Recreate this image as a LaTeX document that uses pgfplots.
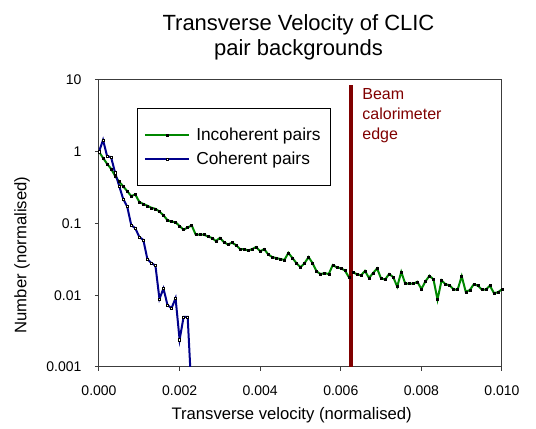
\documentclass[border=0pt]{standalone}
\usepackage{pgfplots}
\pgfplotsset{compat=1.18}
\usepackage{pgfplotstable}
\usepackage{fontspec}
\setmainfont{Liberation Sans}
\definecolor{incgreen}{RGB}{0,135,0}
\definecolor{cohblue}{RGB}{0,0,140}
\definecolor{beamred}{RGB}{128,0,0}
\definecolor{framegray}{RGB}{60,60,60}

\pgfplotstableread{
x v
0.0000 1.0
0.0001 0.82
0.0002 0.68
0.0003 0.578
0.0004 0.46
0.0005 0.383
0.0006 0.33
0.0007 0.282
0.0008 0.241
0.0009 0.254
0.0010 0.200
0.0011 0.187
0.0012 0.177
0.0013 0.166
0.0014 0.160
0.0015 0.147
0.0016 0.130
0.0017 0.111
0.0018 0.106
0.0019 0.104
0.0020 0.092
0.0021 0.082
0.0022 0.088
0.0023 0.094
0.0024 0.070
0.0025 0.070
0.0026 0.070
0.0027 0.066
0.0028 0.063
0.0029 0.057
0.0030 0.063
0.0031 0.055
0.0032 0.051
0.0033 0.054
0.0034 0.050
0.0035 0.044
0.0036 0.044
0.0037 0.042
0.0038 0.044
0.0039 0.047
0.0040 0.041
0.0041 0.044
0.0042 0.037
0.0043 0.034
0.0044 0.033
0.0045 0.032
0.0046 0.031
0.0047 0.039
0.0048 0.033
0.0049 0.028
0.0050 0.0245
0.0051 0.028
0.0052 0.034
0.0053 0.028
0.0054 0.0215
0.0055 0.0197
0.0056 0.0204
0.0057 0.0197
0.0058 0.0263
0.0059 0.0245
0.0060 0.0238
0.0061 0.0222
0.0062 0.0179
0.0063 0.0208
0.0064 0.0197
0.0065 0.0189
0.0066 0.0218
0.0067 0.0174
0.0068 0.0204
0.0069 0.0236
0.0070 0.0171
0.0071 0.0166
0.0072 0.0198
0.0073 0.0179
0.0074 0.0132
0.0075 0.0211
0.0076 0.0145
0.0077 0.0145
0.0078 0.0145
0.0079 0.0154
0.0080 0.0122
0.0081 0.0156
0.0082 0.0187
0.0083 0.0166
0.0084 0.0087
0.0085 0.0161
0.0086 0.0142
0.0087 0.0138
0.0088 0.0120
0.0089 0.0120
0.0090 0.0184
0.0091 0.0112
0.0092 0.0118
0.0093 0.0142
0.0094 0.0136
0.0095 0.0120
0.0096 0.0120
0.0097 0.0136
0.0098 0.0107
0.0099 0.0110
0.0100 0.0121
}\incoh

\pgfplotstableread{
x v
0.0000 1.0
0.0001 1.46
0.0002 0.87
0.0003 0.84
0.0004 0.51
0.0005 0.335
0.0006 0.22
0.0007 0.172
0.0008 0.095
0.0009 0.086
0.0010 0.065
0.0011 0.059
0.0012 0.032
0.0013 0.028
0.0014 0.026
0.0015 0.0089
0.0016 0.0124
0.0017 0.0073
0.0018 0.0066
0.0019 0.0091
0.0020 0.0024
0.0021 0.0050
0.0022 0.0050
0.0023 0.0004
}\coh

\begin{document}
\begin{tikzpicture}
\begin{axis}[
  scale only axis,
  width=302.25pt, height=215.25pt,
  xmin=0, xmax=0.01, ymin=0.001, ymax=10,
  ymode=log,
  xtick={0,0.002,0.004,0.006,0.008,0.01},
  xticklabels={0.000,0.002,0.004,0.006,0.008,0.010},
  ytick={0.001,0.01,0.1,1,10},
  yticklabels={0.001,0.01,0.1,1,10},
  yminorticks=false,
  scaled x ticks=false,
  tick align=outside, xtick pos=bottom, ytick pos=left,
  major tick length=3pt,
  axis line style={framegray, line width=0.75pt},
  tick style={framegray, line width=0.75pt},
  ticklabel style={font=\fontsize{10.5}{12}\selectfont},
  xticklabel style={anchor=north, inner sep=0pt, yshift=-10.5pt},
  yticklabel style={anchor=east, inner sep=0pt, xshift=-10pt},
  /pgf/number format/assume math mode=true,
  title={Transverse Velocity of CLIC\\pair backgrounds},
  title style={at={(axis description cs:0.495,1.12)}, anchor=center, align=center, font=\fontsize{16.5}{18.75}\selectfont},
  xlabel={Transverse velocity (normalised)},
  xlabel style={at={(axis description cs:0.478,-0.167)}, anchor=center, font=\fontsize{12.5}{15}\selectfont},
  ylabel={Number (normalised)},
  ylabel style={at={(axis description cs:-0.191,0.39)}, anchor=center, font=\fontsize{12.5}{15}\selectfont},
  legend style={at={(axis description cs:0.094,0.902)}, anchor=north west, draw=black, line width=0.6pt,
    font=\fontsize{13}{15}\selectfont, inner xsep=5pt, inner ysep=12.5pt, row sep=3pt, column sep=2.75pt},
  legend cell align=left,
  legend image code/.code={\draw[mark repeat=2,mark phase=2,#1] plot coordinates {(0pt,0pt) (16.5pt,0pt) (33pt,0pt)};},
]
\addplot[incgreen, line width=1.5pt, mark=square*, mark size=0.75pt, mark options={solid, fill=black, draw=black, line width=0.3pt}] table[x=x,y=v]{\incoh};
\addlegendentry{Incoherent pairs}
\addplot[cohblue, line width=1.5pt, mark=square*, mark size=0.8pt, mark options={solid, fill=white, draw=black, line width=0.35pt}] table[x=x,y=v]{\coh};
\addlegendentry{Coherent pairs}
\addplot[beamred, line width=3pt, forget plot] coordinates {(0.00625,0.001) (0.00625,8.5)};
\node[anchor=north west, inner sep=0pt, align=left, text=beamred, font=\fontsize{12}{15}\selectfont] at (axis cs:0.00653,7.6) {Beam\\calorimeter\\edge};
\end{axis}
\pgfresetboundingbox
\path ([shift={(-74.25pt,-46.5pt)}]current axis.south west) rectangle ([shift={(25.5pt,60pt)}]current axis.north east);
\end{tikzpicture}
\end{document}
